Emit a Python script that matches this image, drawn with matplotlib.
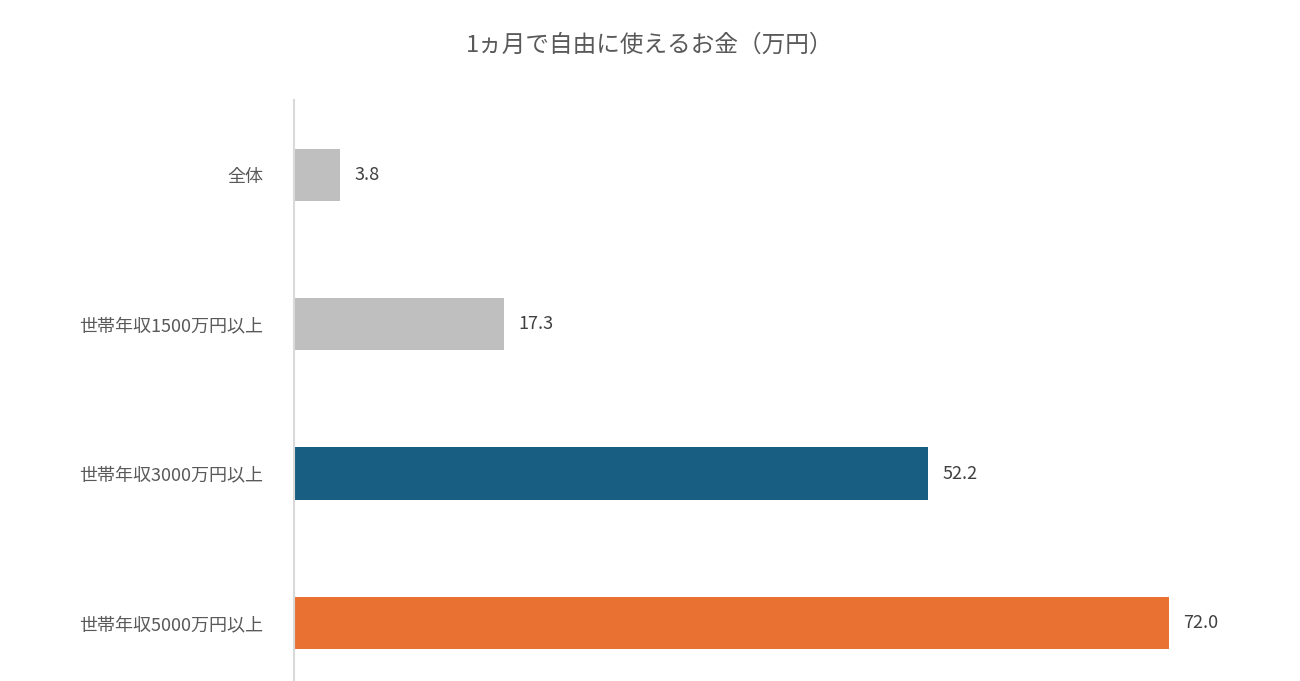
import matplotlib
matplotlib.use("Agg")
import matplotlib.pyplot as plt

plt.rcParams['font.family'] = ['Noto Sans CJK JP', 'DejaVu Sans']

categories = ["全体", "世帯年収1500万円以上", "世帯年収3000万円以上", "世帯年収5000万円以上"]
values = [3.8, 17.3, 52.2, 72.0]
colors = ["#BFBFBF", "#BFBFBF", "#175E82", "#E97132"]
title = "1ヵ月で自由に使えるお金（万円）"

fig = plt.figure(figsize=(13, 6.81), dpi=100)
ax = fig.add_axes([294/1300, 0, 1 - 294/1300, (681-100)/681])
y = list(range(len(categories)))
ax.barh(y, values, height=0.35, color=colors)
ax.set_xlim(0, 82.8)
ax.set_ylim(3.39, -0.503)
for yi, v in zip(y, values):
    ax.text(v + 1.2, yi, f"{v:.1f}", va="center", ha="left", fontsize=13, color="#404040")
ax.set_yticks(y)
ax.set_yticklabels(categories, fontsize=13, color="#595959")
ax.tick_params(axis="y", length=0, pad=22)
ax.set_xticks([])
for s in ["top", "right", "bottom"]:
    ax.spines[s].set_visible(False)
ax.spines["left"].set_color("#D9D9D9")
ax.spines["left"].set_linewidth(1.5)
fig.text(0.5, 1 - 45/681, title, ha="center", va="center", fontsize=17, color="#595959")
fig.savefig("out.png", dpi=100, facecolor="white")
